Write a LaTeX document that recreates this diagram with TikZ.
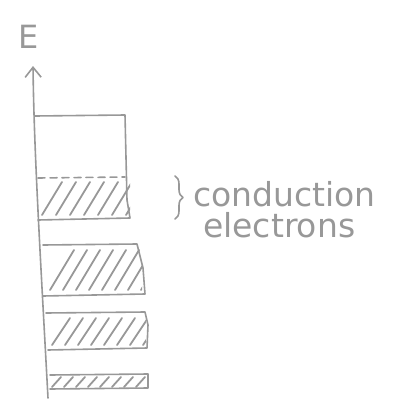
\documentclass[tikz,border=0pt]{standalone}
\usepackage{fontspec}
\setmainfont{DejaVu Sans}
\usetikzlibrary{arrows.meta,decorations.pathreplacing}
\definecolor{pencil}{HTML}{989898}
\tikzset{
  pen/.style={draw=pencil, line width=1.6pt, line cap=round, line join=round},
  hatch/.style={draw=pencil, line width=1.8pt, line cap=round},
  lbl/.style={text=pencil, inner sep=0pt, font=\fontsize{33}{38}\selectfont}
}
\begin{document}
\begin{tikzpicture}[x=1pt,y=-1pt]
\useasboundingbox (0,0) rectangle (405,416);
% axis
\coordinate (ab) at (48,398);
\coordinate (at) at (33,66);
\draw[pen, -{Straight Barb[length=10pt,width=16pt]}] (ab) .. controls (40,250) and (34,150) .. (at);
\node[lbl, font=\fontsize{32}{36}\selectfont] (E) at (29,37) {E};
% band 1 (top, partly filled)
\draw[pen] (35,116) -- (125,115) -- (127,200) -- (130,218) -- (38,220);
\draw[pen, dashed, dash pattern=on 7pt off 5pt] (38,178) -- (125,177);
\begin{scope}
\clip (38,180) rectangle (130,218);
\foreach \i in {0,14,...,120}{\draw[hatch] (42+\i,215) -- (62+\i,182);}
\end{scope}
% band 2
\draw[pen] (43,245) -- (137,244) -- (143,268) -- (145,294) -- (43,296);
\begin{scope}
\clip (45,247) rectangle (142,293);
\foreach \i in {0,13,...,120}{\draw[hatch] (50+\i,290) -- (74+\i,250);}
\end{scope}
% band 3
\draw[pen] (46,313) -- (145,312) -- (148,325) -- (147,348) -- (48,350);
\begin{scope}
\clip (48,315) rectangle (146,347);
\foreach \i in {0,13,...,120}{\draw[hatch] (52+\i,345) -- (70+\i,318);}
\end{scope}
% band 4
\draw[pen] (50,375) -- (148,374) -- (148,388) -- (50,389);
\begin{scope}
\clip (51,376) rectangle (147,387);
\foreach \i in {0,12,...,110}{\draw[hatch] (52+\i,387) -- (61+\i,377);}
\end{scope}
% brace and label
\coordinate (bt) at (175,176);
\coordinate (bb) at (175,219);
\draw[pen, decorate, decoration={brace, amplitude=8pt}] (bt) -- (bb);
\node[lbl, anchor=west] (c1) at (193,194) {conduction};
\node[lbl, anchor=west] (c2) at (203,225) {electrons};
\end{tikzpicture}
\end{document}
